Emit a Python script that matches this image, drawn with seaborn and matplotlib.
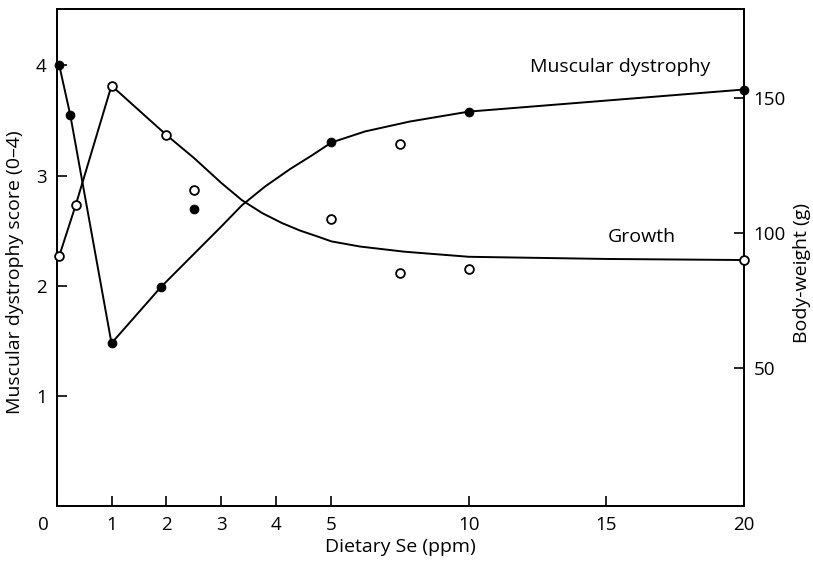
"""
Selenium dose response: muscular dystrophy score and body-weight
against dietary Se, drawn on a broken (piecewise linear) x scale.
"""

import numpy as np
import matplotlib
matplotlib.use("Agg")
import matplotlib.pyplot as plt
import matplotlib.transforms as mtransforms
import seaborn as sns

sns.set_theme(style="ticks")
plt.rcParams["font.family"] = ["Open Sans", "DejaVu Sans"]
plt.rcParams["axes.edgecolor"] = "black"
plt.rcParams["axes.labelcolor"] = "black"
plt.rcParams["text.color"] = "black"

# muscular dystrophy score, filled circles (left axis)
dys_se = [0.05, 0.25, 1.0, 1.9, 2.5, 5.0, 10.0, 20.0]
dys_score = [4.0, 3.55, 1.48, 1.99, 2.70, 3.30, 3.58, 3.78]

# body-weight, open circles (right axis)
gro_se = [0.05, 0.35, 1.0, 2.0, 2.5, 5.0, 7.5, 7.5, 10.0, 20.0]
gro_wt = [91.5, 110.4, 154.6, 136.3, 115.9, 105.2, 132.9, 85.2, 86.7, 90.0]

# hand-drawn curves, vertices
dys_line_se = [0.05, 0.25, 1.0, 1.9, 2.5, 3.0, 3.37, 3.79, 4.25, 4.65, 5.0,
               6.22, 7.85, 10.0, 15.0, 20.0]
dys_line = [4.0, 3.55, 1.48, 1.99, 2.29, 2.54, 2.73, 2.90, 3.06, 3.185, 3.30,
            3.40, 3.49, 3.58, 3.68, 3.78]
gro_line_se = [0.05, 0.35, 1.0, 2.0, 2.5, 3.0, 3.37, 3.74, 4.1, 4.43, 4.75, 5.0,
               6.04, 7.64, 10.0, 15.0, 20.0]
gro_line = [91.5, 110.4, 154.6, 136.3, 127.8, 118.5, 112.2, 107.4, 103.7, 100.9,
            98.7, 96.9, 95.0, 93.1, 91.2, 90.4, 90.0]

x_ticks = [0, 1, 2, 3, 4, 5, 10, 15, 20]
left_ticks = [1, 2, 3, 4]
right_ticks = [50, 100, 150]


def fwd(x):
    x = np.asarray(x, dtype=float)
    return np.where(x <= 5, x, 5 + (x - 5) / 2)


def inv(y):
    y = np.asarray(y, dtype=float)
    return np.where(y <= 5, y, 5 + (y - 5) * 2)


fig = plt.figure(figsize=(8.13, 5.63), dpi=100)
ax = fig.add_axes([0.0695, 0.1004, 0.8456, 0.8836])
ax2 = ax.twinx()
ax.set_xscale("function", functions=(fwd, inv))

line_kw = dict(color="black", linewidth=1.4, sort=False, estimator=None)
sns.lineplot(x=dys_line_se, y=dys_line, ax=ax, **line_kw)
sns.lineplot(x=gro_line_se, y=gro_line, ax=ax2, **line_kw)
sns.scatterplot(x=dys_se, y=dys_score, ax=ax, s=42, color="black",
                edgecolor="black", linewidth=0.5, clip_on=False, zorder=5)
sns.scatterplot(x=gro_se, y=gro_wt, ax=ax2, s=40, color="white",
                edgecolor="black", linewidth=1.3, clip_on=False, zorder=5)

ax.set_xlim(0, 20)
ax.set_ylim(0, 4.51)
ax2.set_ylim(-1.3, 183.0)
ax.set_xticks(x_ticks)
ax.set_xticklabels([str(t) for t in x_ticks])
ax.set_yticks(left_ticks)
ax2.set_yticks(right_ticks)

for a in (ax, ax2):
    a.tick_params(direction="in", length=7, width=1.2, pad=7,
                  labelsize=13.5, colors="black")
    for sp in a.spines.values():
        sp.set_linewidth(1.3)
        sp.set_color("black")
    a.grid(False)

# the "0" label sits left of the axis origin in the original
shift = mtransforms.ScaledTranslation(-0.13, 0, fig.dpi_scale_trans)
lbl0 = ax.get_xticklabels()[0]
lbl0.set_transform(lbl0.get_transform() + shift)

ax.set_xlabel("Dietary Se (ppm)", fontsize=14)
ax.xaxis.set_label_coords(0.5, -0.064)
ax.set_ylabel("Muscular dystrophy score (0\u20134)", fontsize=14)
ax.yaxis.set_label_coords(-0.048, 0.47)
ax2.set_ylabel("Body-weight (g)", fontsize=14)
ax2.yaxis.set_label_coords(1.0713, 0.47)

ax.text(15.5, 3.98, "Muscular dystrophy", fontsize=14, ha="center", va="center")
ax.text(16.3, 2.44, "Growth", fontsize=14, ha="center", va="center")

fig.savefig("out.png", dpi=100)
plt.close(fig)
